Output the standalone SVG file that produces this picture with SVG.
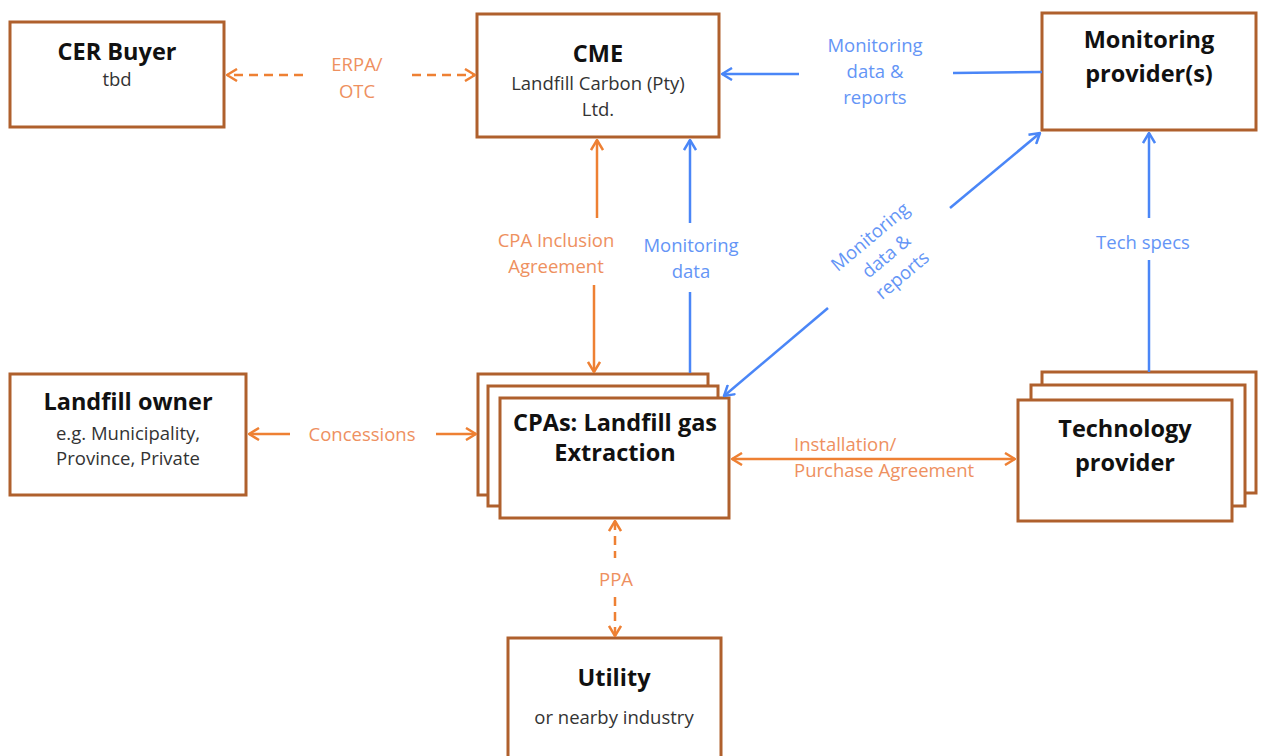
<svg xmlns="http://www.w3.org/2000/svg" width="1262" height="756" viewBox="0 0 1262 756">
<defs>
<style>
.box{fill:#fff;stroke:#AF602D;stroke-width:3}
.t{font-family:"Open Sans","Liberation Sans",sans-serif;text-anchor:middle;fill:#111}
.h{font-size:23.5px;font-weight:bold}
.s{font-size:18.5px;fill:#333}
.lo{font-family:"Open Sans","Liberation Sans",sans-serif;font-size:18.5px;fill:#EE9060;text-anchor:middle}
.lb{font-family:"Open Sans","Liberation Sans",sans-serif;font-size:18.5px;fill:#6495F6;text-anchor:middle}
.co{fill:none;stroke:#EE8033;stroke-width:2.5}
.cb{fill:none;stroke:#4A86F7;stroke-width:2.5}
.d{stroke-dasharray:9,6}
</style>
<marker id="ao" viewBox="0 0 12 14" refX="11" refY="7" markerWidth="12" markerHeight="14" markerUnits="userSpaceOnUse" orient="auto-start-reverse">
<path d="M1,1 L11,7 L1,13" fill="none" stroke="#EE8033" stroke-width="2.5"/>
</marker>
<marker id="ab" viewBox="0 0 12 14" refX="11" refY="7" markerWidth="12" markerHeight="14" markerUnits="userSpaceOnUse" orient="auto-start-reverse">
<path d="M1,1 L11,7 L1,13" fill="none" stroke="#4A86F7" stroke-width="2.5"/>
</marker>
</defs>
<rect width="1262" height="756" fill="#fff"/>

<g id="cer-buyer">
<rect class="box" x="10" y="22" width="214" height="105"/>
<text class="t h" x="117" y="60">CER Buyer</text>
<text class="t s" x="117" y="86">tbd</text>
</g>

<g id="cme">
<rect class="box" x="477" y="14" width="242" height="123"/>
<text class="t h" x="598" y="62">CME</text>
<text class="t s" x="598" y="90">Landfill Carbon (Pty)</text>
<text class="t s" x="598" y="116">Ltd.</text>
</g>

<g id="monitoring-provider">
<rect class="box" x="1042" y="13" width="214" height="117"/>
<text class="t h" x="1149" y="48">Monitoring</text>
<text class="t h" x="1149" y="82">provider(s)</text>
</g>

<g id="landfill-owner">
<rect class="box" x="10" y="374" width="236" height="121"/>
<text class="t h" x="128" y="410">Landfill owner</text>
<text class="t s" x="128" y="440">e.g. Municipality,</text>
<text class="t s" x="128" y="465">Province, Private</text>
</g>

<g id="cpas">
<rect class="box" x="478" y="374" width="230" height="121"/>
<rect class="box" x="488" y="386" width="230" height="120"/>
<rect class="box" x="500" y="398" width="229" height="120"/>
<text class="t h" x="615" y="431">CPAs: Landfill gas</text>
<text class="t h" x="615" y="461">Extraction</text>
</g>

<g id="technology-provider">
<rect class="box" x="1042" y="372" width="214" height="121"/>
<rect class="box" x="1031" y="385" width="214" height="121"/>
<rect class="box" x="1018" y="400" width="214" height="121"/>
<text class="t h" x="1125" y="437">Technology</text>
<text class="t h" x="1125" y="471">provider</text>
</g>

<g id="utility">
<rect class="box" x="508" y="638" width="213" height="130"/>
<text class="t h" x="614" y="686">Utility</text>
<text class="t s" x="614" y="724">or nearby industry</text>
</g>

<g id="connectors">
<!-- ERPA/OTC -->
<line class="co d" x1="303" y1="75" x2="227" y2="75" marker-end="url(#ao)"/>
<line class="co d" x1="412" y1="75" x2="475" y2="75" marker-end="url(#ao)"/>
<text class="lo" x="357" y="71">ERPA/</text>
<text class="lo" x="357" y="98">OTC</text>

<!-- Monitoring data & reports to CME -->
<line class="cb" x1="1042" y1="72" x2="953" y2="73"/>
<line class="cb" x1="799" y1="74" x2="722" y2="74" marker-end="url(#ab)"/>
<text class="lb" x="875" y="52">Monitoring</text>
<text class="lb" x="875" y="78">data &amp;</text>
<text class="lb" x="875" y="104">reports</text>

<!-- CPA Inclusion Agreement -->
<line class="co" x1="597" y1="218" x2="597" y2="140" marker-end="url(#ao)"/>
<line class="co" x1="594" y1="285" x2="594" y2="372" marker-end="url(#ao)"/>
<text class="lo" x="556" y="247">CPA Inclusion</text>
<text class="lo" x="556" y="273">Agreement</text>

<!-- Monitoring data CPAs -> CME -->
<line class="cb" x1="690" y1="223" x2="690" y2="140" marker-end="url(#ab)"/>
<line class="cb" x1="690" y1="292" x2="690" y2="373"/>
<text class="lb" x="691" y="252">Monitoring</text>
<text class="lb" x="691" y="278">data</text>

<!-- Diagonal monitoring data & reports -->
<line class="cb" x1="950" y1="208" x2="1040" y2="133" marker-end="url(#ab)"/>
<line class="cb" x1="828" y1="308" x2="724" y2="396" marker-end="url(#ab)"/>
<g transform="translate(887,257) rotate(-40)">
<text class="lb" x="0" y="-20">Monitoring</text>
<text class="lb" x="0" y="5">data &amp;</text>
<text class="lb" x="0" y="30">reports</text>
</g>

<!-- Tech specs -->
<line class="cb" x1="1149" y1="218" x2="1149" y2="133" marker-end="url(#ab)"/>
<line class="cb" x1="1149" y1="260" x2="1149" y2="372"/>
<text class="lb" x="1143" y="249">Tech specs</text>

<!-- Concessions -->
<line class="co" x1="290" y1="434" x2="249" y2="434" marker-end="url(#ao)"/>
<line class="co" x1="436" y1="434" x2="476" y2="434" marker-end="url(#ao)"/>
<text class="lo" x="362" y="441">Concessions</text>

<!-- Installation / Purchase Agreement -->
<line class="co" x1="732" y1="459" x2="1015" y2="459" marker-start="url(#ao)" marker-end="url(#ao)"/>
<text class="lo" x="794" y="451" style="text-anchor:start">Installation/</text>
<text class="lo" x="794" y="477" style="text-anchor:start">Purchase Agreement</text>

<!-- PPA -->
<line class="co d" x1="615" y1="521" x2="615" y2="558" marker-start="url(#ao)"/>
<line class="co d" x1="615" y1="597" x2="615" y2="636" marker-end="url(#ao)"/>
<text class="lo" x="616" y="586">PPA</text>
</g>
</svg>
